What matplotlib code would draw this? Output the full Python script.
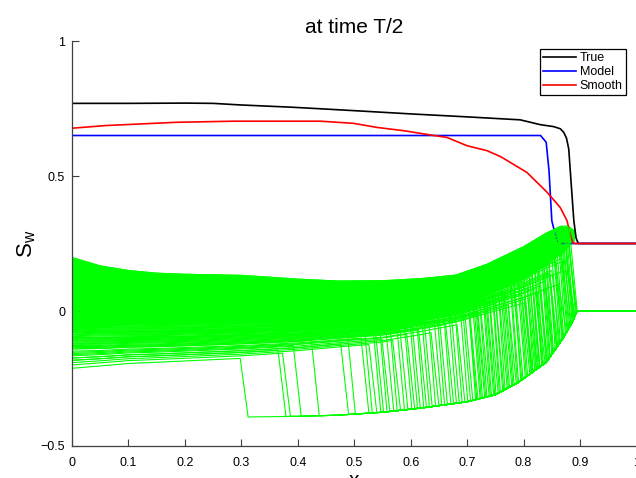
import numpy as np
import matplotlib
matplotlib.use("Agg")
import matplotlib.pyplot as plt

plt.rcParams['font.family'] = ['Liberation Sans', 'DejaVu Sans']
plt.rcParams['mathtext.default'] = 'regular'

# reference solutions
true_x = [0, 0.1, 0.2, 0.25, 0.3, 0.387, 0.44, 0.5, 0.6, 0.7, 0.794, 0.83, 0.853, 0.865, 0.871, 0.876, 0.88, 0.884, 0.889, 0.893, 0.897, 1.0]
true_y = [0.769, 0.769, 0.770, 0.769, 0.763, 0.755, 0.749, 0.742, 0.730, 0.719, 0.708, 0.690, 0.683, 0.675, 0.662, 0.640, 0.600, 0.480, 0.334, 0.270, 0.250, 0.250]

model_x = [0, 0.830, 0.840, 0.845, 0.850, 0.853, 0.858, 0.863, 1.0]
model_y = [0.650, 0.650, 0.625, 0.520, 0.334, 0.309, 0.270, 0.250, 0.250]

smooth_x = [0, 0.061, 0.186, 0.287, 0.44, 0.499, 0.540, 0.587, 0.641, 0.664, 0.700, 0.735, 0.759, 0.771, 0.806, 0.842, 0.865, 0.877, 0.881, 0.886, 0.889, 1.0]
smooth_y = [0.677, 0.687, 0.699, 0.703, 0.703, 0.695, 0.680, 0.668, 0.650, 0.643, 0.612, 0.594, 0.572, 0.557, 0.513, 0.439, 0.383, 0.334, 0.297, 0.260, 0.250, 0.250]

# ensemble band: upper strand, lowest strand, and lower edge of the dense core
ens_x = [0, 0.05, 0.1, 0.15, 0.2, 0.3, 0.4, 0.47, 0.55, 0.62, 0.68, 0.735, 0.8, 0.84, 0.865, 0.88, 0.89]
ens_hi = [0.198, 0.167, 0.150, 0.140, 0.136, 0.132, 0.118, 0.111, 0.112, 0.120, 0.133, 0.173, 0.238, 0.288, 0.313, 0.316, 0.300]
ens_lo = [-0.225, -0.215, -0.205, -0.200, -0.195, -0.185, -0.170, -0.155, -0.140, -0.115, -0.090, -0.060, -0.030, -0.005, 0.010, 0.020, 0.020]
ens_core = [-0.070, -0.060, -0.050, -0.045, -0.040, -0.038, -0.040, -0.045, -0.030, -0.010, 0.015, 0.060, 0.120, 0.170, 0.210, 0.240, 0.260]

# branch that every member follows behind its front
tail_x = [0.30, 0.40, 0.47, 0.55, 0.62, 0.70, 0.75, 0.79, 0.84, 0.87, 0.885, 0.895]
tail_y = [-0.393, -0.390, -0.386, -0.375, -0.359, -0.336, -0.310, -0.265, -0.190, -0.100, -0.045, 0.0]

# front position and level within the band for each ensemble member
member_front = [0.298, 0.365, 0.373, 0.392, 0.424, 0.476, 0.488,
                0.512, 0.518, 0.526, 0.533, 0.538, 0.544, 0.549, 0.556, 0.562, 0.568,
                0.575, 0.581, 0.588, 0.593, 0.598,
                0.603, 0.609, 0.614, 0.619, 0.624, 0.630, 0.636, 0.641, 0.646, 0.651,
                0.657, 0.662, 0.667, 0.672, 0.677, 0.682, 0.687, 0.692, 0.696,
                0.701, 0.705, 0.709, 0.713, 0.717, 0.721, 0.725, 0.729, 0.733, 0.737,
                0.741, 0.745, 0.749, 0.753, 0.757, 0.761, 0.765, 0.769, 0.773, 0.777,
                0.781, 0.785, 0.789, 0.793, 0.797,
                0.800, 0.803, 0.806, 0.809, 0.812, 0.815, 0.818, 0.821, 0.824, 0.827,
                0.830, 0.833, 0.836, 0.839, 0.842, 0.845, 0.848, 0.851, 0.854, 0.857,
                0.860, 0.863, 0.866, 0.869, 0.872, 0.875, 0.878, 0.881,
                0.703, 0.711, 0.719, 0.727, 0.735, 0.743, 0.751, 0.759, 0.767, 0.775,
                0.783, 0.791, 0.799, 0.802, 0.808, 0.814, 0.820, 0.826, 0.832, 0.838,
                0.844, 0.850, 0.856, 0.862, 0.868, 0.874, 0.877, 0.880, 0.8015, 0.8105,
                0.8195, 0.8285, 0.8375, 0.8465, 0.8555, 0.8645, 0.8705, 0.8735, 0.8765, 0.8795]
member_level = [0.03, 0.10, 0.06, 0.15, 0.20, 0.12, 0.25,
                0.18, 0.30, 0.08, 0.35, 0.22, 0.40, 0.14, 0.28, 0.45, 0.10,
                0.33, 0.24, 0.38, 0.16, 0.42,
                0.26, 0.50, 0.20, 0.44, 0.32, 0.55, 0.12, 0.37, 0.48, 0.29,
                0.58, 0.21, 0.46, 0.35, 0.60, 0.17, 0.52, 0.40, 0.31,
                0.62, 0.27, 0.50, 0.70, 0.36, 0.57, 0.23, 0.66, 0.45, 0.74,
                0.30, 0.60, 0.53, 0.78, 0.39, 0.68, 0.47, 0.72, 0.25, 0.63,
                0.80, 0.43, 0.58, 0.76, 0.34,
                0.65, 0.82, 0.41, 0.73, 0.86, 0.55, 0.78, 0.90, 0.30, 0.69,
                0.84, 0.93, 0.60, 0.80, 0.95, 0.48, 0.88, 0.97, 0.72, 0.92,
                0.99, 0.85, 0.96, 1.00, 0.94, 0.98, 1.00, 0.97,
                0.35, 0.55, 0.28, 0.65, 0.42, 0.75, 0.33, 0.58, 0.48, 0.70,
                0.38, 0.62, 0.52, 0.27, 0.45, 0.67, 0.36, 0.57, 0.77, 0.40,
                0.63, 0.50, 0.71, 0.30, 0.60, 0.82, 0.44, 0.74, 0.22, 0.53,
                0.66, 0.37, 0.79, 0.46, 0.59, 0.86, 0.69, 0.90, 0.56, 0.81]


def member_curve(front, level, drop=0.014):
    ex = np.array(ens_x)
    band = np.array(ens_lo) + level * (np.array(ens_hi) - np.array(ens_lo))
    keep = ex < front
    xs = list(ex[keep]) + [front]
    ys = list(band[keep]) + [np.interp(front, ex, band)]
    xe = min(front + drop, 0.895)
    xs.append(xe)
    ys.append(np.interp(xe, tail_x, tail_y))
    for tx, ty in zip(tail_x, tail_y):
        if tx > xe:
            xs.append(tx)
            ys.append(ty)
    xs.append(1.0)
    ys.append(0.0)
    return xs, ys


fig = plt.figure(figsize=(6.36, 4.78), dpi=100)
ax = fig.add_axes([72 / 636, 32 / 478, 564.5 / 636, 405 / 478])

ax.plot(true_x, true_y, color='black', lw=1.2, label='True')
ax.plot(model_x, model_y, color='blue', lw=1.2, label='Model')
ax.plot(smooth_x, smooth_y, color='red', lw=1.2, label='Smooth')

green = '#00ff00'
ax.fill_between(ens_x, ens_core, ens_hi, color=green, lw=0)
for f, lv in zip(member_front, member_level):
    mx, my = member_curve(f, lv)
    ax.plot(mx, my, color=green, lw=0.8)

ax.set_xlim(0, 1)
ax.set_ylim(-0.5, 1)
ax.set_xticks(np.arange(0, 1.01, 0.1))
ax.set_xticklabels(['0', '0.1', '0.2', '0.3', '0.4', '0.5', '0.6', '0.7', '0.8', '0.9', '1'])
ax.set_yticks([-0.5, 0, 0.5, 1])
ax.set_yticklabels(['\u22120.5', '0', '0.5', '1'])
ax.tick_params(direction='in', length=5, width=0.8, color='#404040', labelsize=9)
ax.tick_params(axis='x', pad=8)
ax.tick_params(axis='y', pad=5)
for side in ['top', 'right']:
    ax.spines[side].set_visible(False)
for side in ['left', 'bottom']:
    ax.spines[side].set_color('#404040')
    ax.spines[side].set_linewidth(0.9)

ax.set_title('at time T/2', fontsize=15, pad=6)
ax.set_xlabel('x', fontsize=15, labelpad=1)
ax.set_ylabel('S$_w$', fontsize=16, labelpad=2)

leg = ax.legend(loc='upper right', bbox_to_anchor=(0.981, 0.980), borderaxespad=0,
                fontsize=9, fancybox=False, framealpha=1, edgecolor='black',
                handlelength=2.6, handletextpad=0.3, labelspacing=0.15, borderpad=0.25)
leg.get_frame().set_linewidth(0.9)

fig.savefig('out.png', dpi=100)
